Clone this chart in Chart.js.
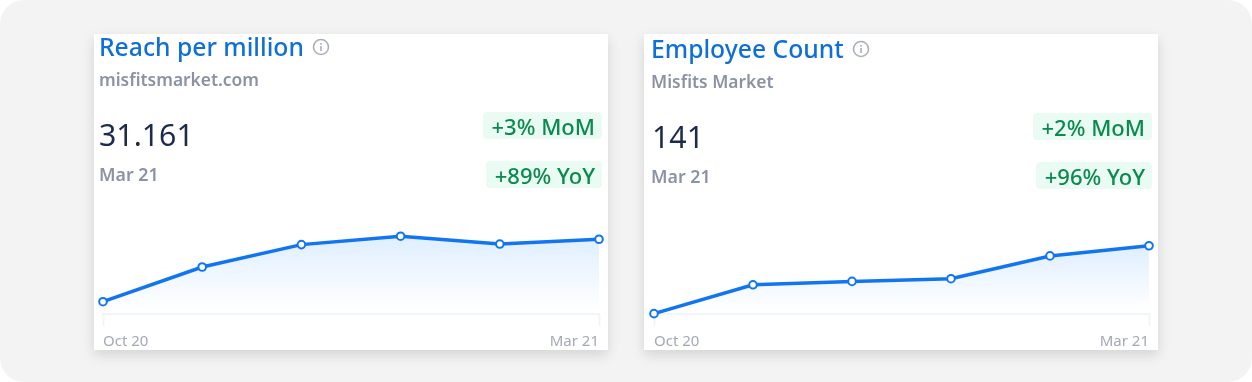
<!DOCTYPE html>
<html>
<head>
<meta charset="utf-8">
<title>Misfits Market metrics</title>
<script src="https://cdn.jsdelivr.net/npm/chart.js@4/dist/chart.umd.min.js"></script>
<style>
  html, body { margin: 0; padding: 0; background: #fff; }
  body { width: 1252px; height: 382px; overflow: hidden; font-family: "Noto Sans", sans-serif; }
  .panel { position: absolute; left: 0; top: 0; width: 1252px; height: 382px; background: #f3f3f3; border-radius: 24px; }
  .card { position: absolute; top: 34px; width: 514px; height: 316px; background: #fff; box-shadow: 0 5px 12px rgba(0, 0, 0, 0.13); filter: blur(0.35px); }
  .card > * { position: absolute; white-space: nowrap; }
  .title { left: 5px; top: -3px; font-size: 24.7px; line-height: 32px; font-weight: 500; color: #0f6fd8; }
  .title svg { vertical-align: 0; margin-left: 2px; }
  .site { left: 5px; top: 33px; font-size: 17.4px; line-height: 24px; font-weight: 600; color: #8b93a3; }
  .value { left: 5px; top: 81px; font-size: 30.3px; line-height: 40px; color: #1c2b4a; }
  .date { left: 5px; top: 128px; font-size: 17.8px; line-height: 24px; font-weight: 600; color: #8b93a3; }
  .badge { right: 6px; height: 27px; line-height: 29px; padding: 0 7px 0 9px; border-radius: 4px; background: #e9fbf2; color: #0b8a50; font-size: 22px; font-weight: 500; }
  .mom { top: 78px; }
  .yoy { top: 127px; }
  canvas { position: absolute; left: 0; top: 166px; }
  #card2 .title, #card2 .site { left: 7px; }
  #card2 .title { top: -1px; }
  #card2 .site { top: 35px; }
  #card2 .value { left: 8px; top: 83px; }
  #card2 .date { left: 7px; top: 130px; }
  #card2 .mom { top: 79px; }
  #card2 .yoy { top: 128px; }
</style>
</head>
<body>
<div class="panel">
  <div class="card" id="card1" style="left:94px">
    <div class="title">Reach per million <svg width="18" height="18" viewBox="0 0 18 18"><circle cx="9" cy="9" r="7.5" fill="none" stroke="#a9afba" stroke-width="1.6"/><rect x="8.2" y="8" width="1.6" height="5" fill="#a9afba"/><rect x="8.2" y="5" width="1.6" height="1.7" fill="#a9afba"/></svg></div>
    <div class="site">misfitsmarket.com</div>
    <div class="value">31.161</div>
    <div class="date">Mar 21</div>
    <div class="badge mom">+3% MoM</div>
    <div class="badge yoy">+89% YoY</div>
    <canvas id="reach-chart" width="514" height="150"></canvas>
  </div>
  <div class="card" id="card2" style="left:644px">
    <div class="title">Employee Count <svg width="18" height="18" viewBox="0 0 18 18"><circle cx="9" cy="9" r="7.5" fill="none" stroke="#a9afba" stroke-width="1.6"/><rect x="8.2" y="8" width="1.6" height="5" fill="#a9afba"/><rect x="8.2" y="5" width="1.6" height="1.7" fill="#a9afba"/></svg></div>
    <div class="site">Misfits Market</div>
    <div class="value">141</div>
    <div class="date">Mar 21</div>
    <div class="badge mom">+2% MoM</div>
    <div class="badge yoy">+96% YoY</div>
    <canvas id="employee-chart" width="514" height="150"></canvas>
  </div>
</div>

<script>
const months = ["Oct 20", "Nov 20", "Dec 20", "Jan 21", "Feb 21", "Mar 21"];
const reachValues = [20.0, 26.2, 30.2, 31.7, 30.3, 31.161];
const employeeValues = [121, 129.5, 130.5, 131.3, 138, 141];
const reachRange = [17.8, 37.1];
const employeeRange = [120.9, 152.7];

// Blue fade under the line, from the highest point down to the axis
function areaFill(context) {
  const { chart } = context;
  if (!chart.chartArea) return "transparent";
  const top = chart.scales.y.getPixelForValue(Math.max(...context.dataset.data));
  const gradient = chart.ctx.createLinearGradient(0, top, 0, chart.chartArea.bottom - 3);
  gradient.addColorStop(0, "rgba(30, 136, 255, 0.14)");
  gradient.addColorStop(1, "rgba(30, 136, 255, 0)");
  return gradient;
}

function drawLine(id, values, range, leftPad) {
  const ctx = document.getElementById(id).getContext("2d");
  const lastIndex = months.length - 1;

  return new Chart(ctx, {
    type: "line",
    data: {
      labels: months,
      datasets: [{
        data: values,
        borderColor: "#1275f0",
        borderWidth: 3.5,
        backgroundColor: areaFill,
        fill: "start",
        tension: 0,
        pointRadius: 3.8,
        pointBorderWidth: 2,
        pointBorderColor: "#1275f0",
        pointBackgroundColor: "#ffffff",
        clip: false
      }]
    },
    options: {
      responsive: false,
      animation: false,
      layout: { padding: { left: leftPad, right: 9, top: 0, bottom: 0 } },
      plugins: { legend: { display: false }, tooltip: { enabled: false } },
      scales: {
        y: { display: false, min: range[0], max: range[1] },
        x: {
          offset: false,
          afterFit: (scale) => { scale.height = 36; },
          border: { color: "#f3f4f6", width: 2 },
          grid: {
            drawOnChartArea: false,
            tickLength: 12,
            tickWidth: 2,
            tickColor: (c) => (c.index === 0 || c.index === lastIndex ? "#f3f4f6" : "transparent")
          },
          ticks: {
            align: "inner",
            autoSkip: false,
            maxRotation: 0,
            padding: 7,
            color: "#a3a9b5",
            font: { family: "Noto Sans", size: 15 },
            callback: (val, i) => (i === 0 || i === lastIndex ? months[i] : "")
          }
        }
      }
    }
  });
}

drawLine("reach-chart", reachValues, reachRange, 9);
drawLine("employee-chart", employeeValues, employeeRange, 10);
</script>
</body>
</html>
